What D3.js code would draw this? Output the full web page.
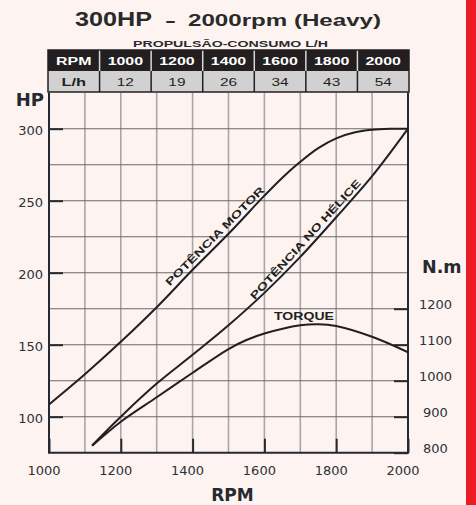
<!DOCTYPE html>
<html>
<head>
<meta charset="utf-8">
<script src="https://cdn.jsdelivr.net/npm/d3@7"></script>
<style>
  html, body { margin: 0; padding: 0; background: #fdf4f1; }
  svg { display: block; }
</style>
</head>
<body>
<div class="chart"></div>
<script>
// Data

const tableRpm = [1000, 1200, 1400, 1600, 1800, 2000]
const tableLh = [12, 19, 26, 34, 43, 54]

const motorRpm = [1000, 1100, 1200, 1300, 1400, 1500, 1600, 1650, 1700, 1750, 1800, 1850, 1900, 1950, 2000]
const motorHp = [108.5, 129.5, 152, 176, 202, 227, 253.5, 266, 277, 286.5, 293.3, 297.3, 299.2, 299.9, 300]

const propRpm = [1120, 1200, 1300, 1400, 1500, 1600, 1700, 1800, 1900, 2000]
const propHp = [80, 100, 123, 143, 163.5, 186, 211, 238.5, 267, 300]

const torqueRpm = [1120, 1200, 1300, 1400, 1500, 1550, 1600, 1700, 1750, 1800, 1900, 2000]
const torqueNm = [819, 886, 954, 1022, 1088, 1113, 1131, 1154, 1157, 1152, 1122, 1079]

const hpTicks = [100, 150, 200, 250, 300]
const nmTicks = [800, 900, 1000, 1100, 1200]
const rpmTicks = [1000, 1200, 1400, 1600, 1800, 2000]

// Chart

const W = 476
const H = 505
const plot = {left: 49, right: 408, top: 92.7, bottom: 452.7}
const dark = '#262a30'

const svg = d3.select('.chart')
  .append('svg')
    .attr('width', W)
    .attr('height', H)

svg.append('rect')
    .attr('width', W)
    .attr('height', H)
    .attr('fill', '#fdf4f1')

svg.append('rect')
    .attr('x', 466)
    .attr('width', 10)
    .attr('height', H)
    .attr('fill', '#ed1c24')

const x = d3.scaleLinear().domain([1000, 2000]).range([plot.left, plot.right])
const y = d3.scaleLinear().domain([75, 325]).range([plot.bottom, plot.top])
const yNm = d3.scaleLinear().domain([800, 1200]).range([plot.bottom, plot.bottom - 144])

// grid
const grid = svg.append('g')
grid.selectAll('.vgrid')
    .data(d3.range(1100, 2000, 100))
  .enter().append('line')
    .attr('x1', (d) => x(d))
    .attr('x2', (d) => x(d))
    .attr('y1', plot.top)
    .attr('y2', plot.bottom)
    .style('stroke', '#aba5a5')
    .style('stroke-width', 1.6)
grid.selectAll('.hgrid')
    .data(d3.range(100, 325, 25))
  .enter().append('line')
    .attr('x1', plot.left)
    .attr('x2', plot.right)
    .attr('y1', (d) => y(d))
    .attr('y2', (d) => y(d))
    .style('stroke', '#6a6a6a')
    .style('stroke-width', 1.1)

// axes
const styleAxis = (g) => {
  g.select('.domain').remove()
  g.selectAll('.tick line').style('stroke', dark).style('stroke-width', 2)
  g.selectAll('.tick text')
    .style('font-family', '"DejaVu Sans", sans-serif')
    .style('font-size', '13px')
    .style('fill', '#2f3137')
}

svg.append('g')
    .attr('transform', `translate(${plot.left},0)`)
    .call(d3.axisLeft(y).tickValues(hpTicks).tickSizeInner(-14).tickSizeOuter(0).tickPadding(6))
    .call(styleAxis)
  .selectAll('.tick text')
    .attr('dy', '0.45em')

svg.append('g')
    .attr('transform', `translate(0,${plot.bottom})`)
    .call(d3.axisBottom(x).tickValues(rpmTicks).tickFormat(d3.format('d')).tickSizeInner(-14).tickSizeOuter(0).tickPadding(13))
    .call(styleAxis)
  .selectAll('.tick text')
    .attr('dx', -5.5)

svg.append('g')
    .attr('transform', `translate(${plot.right},0)`)
    .call(d3.axisRight(yNm).tickValues(nmTicks).tickFormat(d3.format('d')).tickSizeInner(-14).tickSizeOuter(0).tickPadding(0))
    .call(styleAxis)
  .selectAll('.tick text')
    .attr('x', 27.5)
    .attr('dy', '-0.05em')
    .style('text-anchor', 'middle')

// frame
svg.append('path')
    .attr('d', `M${plot.left},${plot.top}V${plot.bottom}H${plot.right}V${plot.top}`)
    .attr('fill', 'none')
    .style('stroke', dark)
    .style('stroke-width', 2)

// curves
const line = d3.line()
  .x((d) => x(d[0]))
  .y((d) => d[1])
  .curve(d3.curveCatmullRom.alpha(0.5))

const motorPts = motorRpm.map((r, i) => [r, y(motorHp[i])])
const propPts = propRpm.map((r, i) => [r, y(propHp[i])])
const torquePts = torqueRpm.map((r, i) => [r, yNm(torqueNm[i])])

const curves = svg.append('g')
  .selectAll('path')
  .data([motorPts, propPts, torquePts])
  .enter().append('path')
    .attr('d', line)
    .attr('fill', 'none')
    .style('stroke', '#231f20')
    .style('stroke-width', 2)

// labels on curves
const labelOnCurve = (pathNode, atRpm, text, width) => {
  const total = pathNode.getTotalLength()
  const px = x(atRpm)
  let lo = 0
  let hi = total
  for (let k = 0; k < 40; k++) {
    const mid = (lo + hi) / 2
    if (pathNode.getPointAtLength(mid).x < px) lo = mid
    else hi = mid
  }
  const p = pathNode.getPointAtLength(lo)
  const a = pathNode.getPointAtLength(Math.max(0, lo - 10))
  const b = pathNode.getPointAtLength(Math.min(total, lo + 10))
  const angle = Math.atan2(b.y - a.y, b.x - a.x) * 180 / Math.PI
  svg.append('text')
      .attr('transform', `translate(${p.x},${p.y}) rotate(${angle})`)
      .attr('x', -width / 2)
      .attr('y', -4.5)
      .attr('textLength', width)
      .attr('lengthAdjust', 'spacingAndGlyphs')
      .style('font-family', '"Liberation Sans", Arial, sans-serif')
      .style('font-weight', 'bold')
      .style('font-size', '10.5px')
      .style('fill', '#231f20')
      .text(text)
}

const nodes = curves.nodes()
labelOnCurve(nodes[0], 1478, 'POTÊNCIA MOTOR', 135)
labelOnCurve(nodes[1], 1731, 'POTÊNCIA NO HÉLICE', 158)

svg.append('text')
    .attr('x', 274)
    .attr('y', 320)
    .attr('textLength', 60)
    .attr('lengthAdjust', 'spacingAndGlyphs')
    .style('font-family', '"Liberation Sans", Arial, sans-serif')
    .style('font-weight', 'bold')
    .style('font-size', '10.5px')
    .style('fill', '#231f20')
    .text('TORQUE')

// axis titles
const boldLabel = (tx, ty, anchor, size, text) => svg.append('text')
    .attr('x', tx)
    .attr('y', ty)
    .style('text-anchor', anchor)
    .style('font-family', '"DejaVu Sans", sans-serif')
    .style('font-weight', 'bold')
    .style('font-size', size + 'px')
    .style('fill', '#262a30')
    .text(text)

boldLabel(44, 105.5, 'end', 18, 'HP')
boldLabel(422, 273.3, 'start', 17.5, 'N.m')
boldLabel(232.5, 501, 'middle', 17, 'RPM')

// title
const titleFont = '"Liberation Sans", Arial, sans-serif'
const stretched = (tx, ty, w, size, text) => svg.append('text')
    .attr('x', tx)
    .attr('y', ty)
    .attr('textLength', w)
    .attr('lengthAdjust', 'spacingAndGlyphs')
    .style('font-family', titleFont)
    .style('font-weight', 'bold')
    .style('font-size', size + 'px')
    .style('fill', '#2a2a2a')
    .text(text)

stretched(75, 26, 77, 20.5, '300HP')
stretched(165, 26, 11, 17, '-')
stretched(188, 26, 193, 16, '2000rpm (Heavy)')
stretched(133, 46.7, 195, 8.3, 'PROPULSÃO-CONSUMO L/H')

// consumption table
const cols = d3.scaleBand()
  .domain(['head'].concat(tableRpm.map(String)))
  .range([48, 409])

const table = svg.append('g')
table.append('rect')
    .attr('x', 48).attr('y', 50)
    .attr('width', 361).attr('height', 21)
    .attr('fill', '#231f20')
table.append('rect')
    .attr('x', 48).attr('y', 71)
    .attr('width', 361).attr('height', 21)
    .attr('fill', '#d1d1d1')

table.selectAll('.sep1')
    .data(cols.domain().slice(1))
  .enter().append('line')
    .attr('x1', (d) => cols(d)).attr('x2', (d) => cols(d))
    .attr('y1', 50).attr('y2', 71)
    .style('stroke', '#d8d8d8')
    .style('stroke-width', 1.5)
table.selectAll('.sep2')
    .data(cols.domain().slice(1))
  .enter().append('line')
    .attr('x1', (d) => cols(d)).attr('x2', (d) => cols(d))
    .attr('y1', 71).attr('y2', 92)
    .style('stroke', '#231f20')
    .style('stroke-width', 1.5)
table.append('rect')
    .attr('x', 48).attr('y', 50)
    .attr('width', 361).attr('height', 42)
    .attr('fill', 'none')
    .style('stroke', '#231f20')
    .style('stroke-width', 1.5)

const cellText = (key, ty, text, bold, color, sx) => table.append('text')
    .attr('transform', `translate(${cols(key) + cols.bandwidth() / 2},${ty}) scale(${sx},1)`)
    .style('text-anchor', 'middle')
    .style('font-family', titleFont)
    .style('font-weight', bold ? 'bold' : 'normal')
    .style('font-size', '11px')
    .style('fill', color)
    .text(text)

cellText('head', 64.5, 'RPM', true, '#ffffff', 1.45)
cellText('head', 86, 'L/h', true, '#231f20', 1.5)
tableRpm.forEach((r, i) => {
  cellText(String(r), 64.5, r, true, '#ffffff', 1.45)
  cellText(String(r), 86, tableLh[i], false, '#231f20', 1.4)
})
</script>
</body>
</html>
